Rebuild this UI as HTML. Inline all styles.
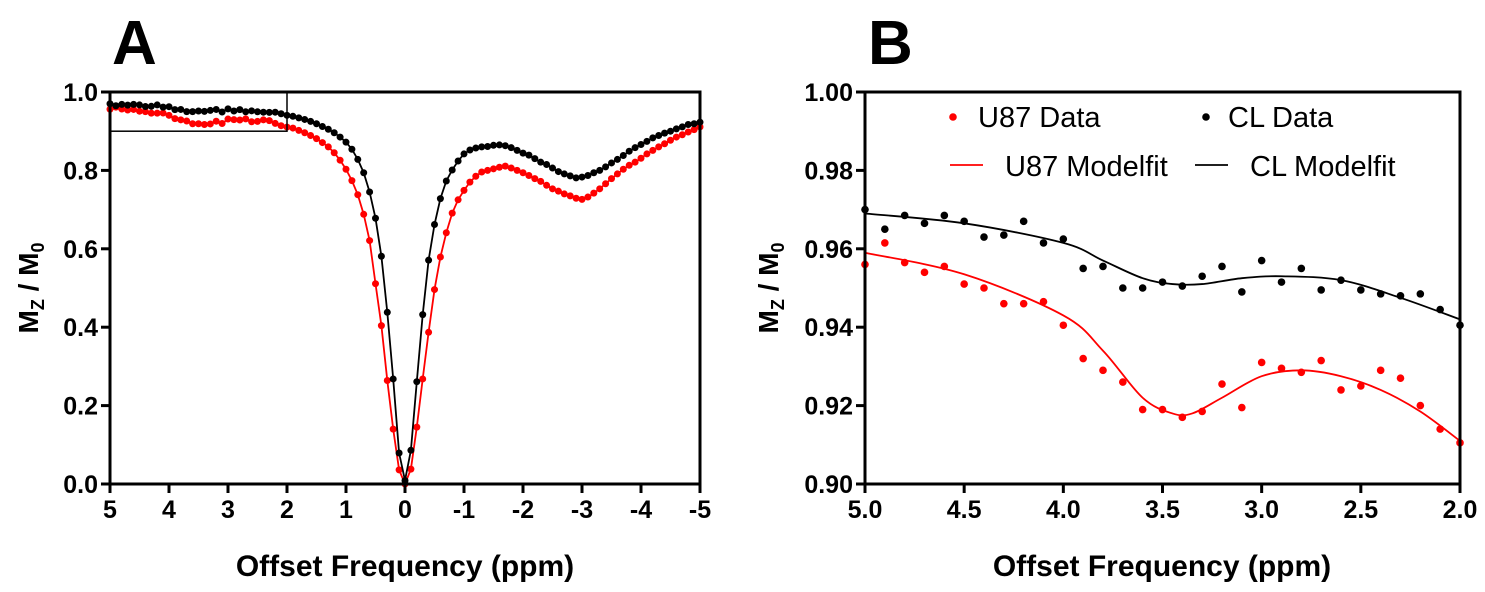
<!DOCTYPE html>
<html><head><meta charset="utf-8"><style>
html,body{margin:0;padding:0;background:#fff;width:1485px;height:592px;overflow:hidden}
svg{display:block;font-family:"Liberation Sans",Arial,sans-serif}
</style></head><body>
<svg id="chart" width="1485" height="592"></svg>
<script>
// ---------- Data ----------
const bPpm = [5.0,4.9,4.8,4.7,4.6,4.5,4.4,4.3,4.2,4.1,4.0,3.9,3.8,3.7,3.6,3.5,3.4,3.3,3.2,3.1,3.0,2.9,2.8,2.7,2.6,2.5,2.4,2.3,2.2,2.1,2.0];
const clData = [0.970,0.965,0.9685,0.9665,0.9685,0.967,0.963,0.9635,0.967,0.9615,0.9625,0.955,0.9555,0.950,0.950,0.9515,0.9505,0.953,0.9555,0.949,0.957,0.9515,0.955,0.9495,0.952,0.9495,0.9485,0.948,0.9485,0.9445,0.9405];
const u87Data = [0.956,0.9615,0.9565,0.954,0.9555,0.951,0.950,0.946,0.946,0.9465,0.9405,0.932,0.929,0.926,0.919,0.919,0.917,0.9185,0.9255,0.9195,0.931,0.9295,0.9285,0.9315,0.924,0.925,0.929,0.927,0.920,0.914,0.9105];
const clFitPpm = [5.0,4.5,4.0,3.8,3.6,3.45,3.3,3.1,2.9,2.6,2.3,2.0];
const clFit = [0.969,0.9665,0.9615,0.957,0.9525,0.951,0.951,0.9525,0.953,0.952,0.9475,0.942];
const u87FitPpm = [5.0,4.5,4.0,3.8,3.6,3.45,3.35,3.2,3.0,2.8,2.6,2.4,2.2,2.0];
const u87Fit = [0.959,0.9535,0.943,0.934,0.922,0.918,0.918,0.922,0.9275,0.929,0.9275,0.924,0.9185,0.911];
// Panel A: values from 1.9 down to -5.0 (step 0.1)
const clA = [0.938,0.934,0.930,0.925,0.919,0.912,0.905,0.896,0.885,0.872,0.854,0.828,0.794,0.745,0.678,0.581,0.438,0.268,0.079,0.009,
 0.086,0.261,0.432,0.571,0.662,0.728,0.773,0.801,0.824,0.842,0.852,0.857,0.860,0.861,0.864,0.865,0.863,0.858,0.851,0.844,0.839,0.830,0.821,0.815,0.806,0.797,0.791,0.786,0.781,0.783,0.787,0.794,0.800,0.809,0.819,0.828,0.838,0.849,0.858,0.866,0.874,0.883,0.889,0.895,0.900,0.906,0.911,0.917,0.919,0.923];
const u87A = [0.908,0.902,0.896,0.889,0.881,0.871,0.860,0.845,0.826,0.803,0.774,0.738,0.688,0.621,0.511,0.404,0.264,0.140,0.036,0.0,
 0.038,0.145,0.268,0.387,0.496,0.579,0.641,0.691,0.725,0.749,0.770,0.785,0.796,0.800,0.804,0.808,0.811,0.806,0.800,0.794,0.787,0.779,0.772,0.762,0.753,0.747,0.740,0.735,0.729,0.726,0.732,0.742,0.753,0.766,0.779,0.791,0.803,0.813,0.821,0.831,0.842,0.851,0.860,0.868,0.877,0.885,0.891,0.898,0.904,0.911];
const aTicksX = [5,4,3,2,1,0,-1,-2,-3,-4,-5];
const aTicksY = [0,0.2,0.4,0.6,0.8,1.0];
const bTicksX = [5.0,4.5,4.0,3.5,3.0,2.5,2.0];
const bTicksY = [0.90,0.92,0.94,0.96,0.98,1.00];

// ---------- Helpers ----------
const NS="http://www.w3.org/2000/svg";
const svg=document.getElementById('chart');
function mk(tag,attrs,parent,text){const e=document.createElementNS(NS,tag);for(const k in attrs)e.setAttribute(k,attrs[k]);if(text!==undefined)e.textContent=text;(parent||svg).appendChild(e);return e;}
function catmull(pts){let d=`M${pts[0][0]},${pts[0][1]}`;for(let i=0;i<pts.length-1;i++){const p0=pts[i-1]||pts[i],p1=pts[i],p2=pts[i+1],p3=pts[i+2]||p2;
 d+=` C${p1[0]+(p2[0]-p0[0])/6},${p1[1]+(p2[1]-p0[1])/6} ${p2[0]-(p3[0]-p1[0])/6},${p2[1]-(p3[1]-p1[1])/6} ${p2[0]},${p2[1]}`;}return d;}
const TICK_FS=25, TITLE_FS=30;

// ---------- Panel A ----------
const ax={x0:110,x1:700,y0:484,y1:92};
const xA=v=>ax.x0+(5-v)/10*(ax.x1-ax.x0);
const yA=v=>ax.y0-v*(ax.y0-ax.y1);
const gA=mk('g',{});


const pl=mk('text',{x:112,y:64,'font-size':62,'font-weight':'bold'},gA,'A');

const ppmA=[];for(let i=0;i<bPpm.length;i++)ppmA.push(bPpm[i]);
for(let i=0;i<clA.length;i++)ppmA.push(+(1.9-0.1*i).toFixed(1));
const clAll=clData.concat(clA), u87All=u87Data.concat(u87A);
[[u87All,'#ff0000','u87'],[clAll,'#000','cl']].forEach(([arr,col,nm])=>{
 const pts=arr.map((v,i)=>[xA(ppmA[i]),yA(v)]);
 const l=mk('polyline',{points:pts.map(p=>p.join(',')).join(' '),fill:'none',stroke:col,'stroke-width':1.8},gA);
 
 pts.forEach(p=>{const c=mk('circle',{cx:p[0],cy:p[1],r:3.5,fill:col},gA);
  });
});
const box=mk('rect',{x:xA(5),y:yA(1.0),width:xA(2)-xA(5),height:yA(0.9)-yA(1.0),fill:'none',stroke:'#000','stroke-width':1.5},gA);

const frA=mk('rect',{x:ax.x0,y:ax.y1,width:ax.x1-ax.x0,height:ax.y0-ax.y1,fill:'none',stroke:'#000','stroke-width':3},gA);

aTicksX.forEach(t=>{mk('line',{x1:xA(t),x2:xA(t),y1:ax.y0,y2:ax.y0+9,stroke:'#000','stroke-width':3},gA);
 const e=mk('text',{x:xA(t),y:ax.y0+34,'font-size':TICK_FS,'font-weight':'bold','text-anchor':'middle'},gA,String(t));
 });
aTicksY.forEach(t=>{mk('line',{x1:ax.x0-9,x2:ax.x0,y1:yA(t),y2:yA(t),stroke:'#000','stroke-width':3},gA);
 const e=mk('text',{x:ax.x0-12,y:yA(t)+9,'font-size':TICK_FS,'font-weight':'bold','text-anchor':'end'},gA,t.toFixed(1));
 });
const xtA=mk('text',{x:405,y:576,'font-size':TITLE_FS,'font-weight':'bold','text-anchor':'middle'},gA,'Offset Frequency (ppm)');

function ytitle(g,x,cy,nm){const t=mk('text',{transform:`translate(${x},${cy}) rotate(-90)`,'font-size':28,'font-weight':'bold','text-anchor':'middle'},g);
 
 mk('tspan',{},t,'M');mk('tspan',{'font-size':18,dy:6},t,'Z');mk('tspan',{dy:-6},t,' / M');mk('tspan',{'font-size':18,dy:6},t,'0');}
ytitle(gA,38,288,'y-axis-title-a');

// ---------- Panel B ----------
const bx={x0:865,x1:1460,y0:484,y1:92};
const xB=v=>bx.x0+(5-v)/3*(bx.x1-bx.x0);
const yB=v=>bx.y0-(v-0.9)/0.1*(bx.y0-bx.y1);
const gB=mk('g',{});


const plb=mk('text',{x:868,y:64,'font-size':62,'font-weight':'bold'},gB,'B');

[[u87FitPpm,u87Fit,'#ff0000','u87'],[clFitPpm,clFit,'#000','cl']].forEach(([px,py,col,nm])=>{
 const p=mk('path',{d:catmull(px.map((v,i)=>[xB(v),yB(py[i])])),fill:'none',stroke:col,'stroke-width':1.8},gB);
 });
[[u87Data,'#ff0000','u87'],[clData,'#000','cl']].forEach(([arr,col,nm])=>{
 arr.forEach((v,i)=>{const c=mk('circle',{cx:xB(bPpm[i]),cy:yB(v),r:3.8,fill:col},gB);
  });});
const frB=mk('rect',{x:bx.x0,y:bx.y1,width:bx.x1-bx.x0,height:bx.y0-bx.y1,fill:'none',stroke:'#000','stroke-width':3},gB);

bTicksX.forEach(t=>{mk('line',{x1:xB(t),x2:xB(t),y1:bx.y0,y2:bx.y0+9,stroke:'#000','stroke-width':3},gB);
 const e=mk('text',{x:xB(t),y:bx.y0+34,'font-size':TICK_FS,'font-weight':'bold','text-anchor':'middle'},gB,t.toFixed(1));
 });
bTicksY.forEach(t=>{mk('line',{x1:bx.x0-9,x2:bx.x0,y1:yB(t),y2:yB(t),stroke:'#000','stroke-width':3},gB);
 const e=mk('text',{x:bx.x0-12,y:yB(t)+9,'font-size':TICK_FS,'font-weight':'bold','text-anchor':'end'},gB,t.toFixed(2));
 });
const xtB=mk('text',{x:1162,y:576,'font-size':TITLE_FS,'font-weight':'bold','text-anchor':'middle'},gB,'Offset Frequency (ppm)');

ytitle(gB,778,288,'y-axis-title-b');

// legend
const lg=mk('g',{},gB);

const le=[
 {t:'U87 Data',x:978,y:127,kind:'dot',col:'#ff0000',kx:953,ky:117,n:'legend-u87-data'},
 {t:'CL Data',x:1228,y:127,kind:'dot',col:'#000',kx:1206,ky:117,n:'legend-cl-data'},
 {t:'U87 Modelfit',x:1005,y:176,kind:'line',col:'#ff0000',kx:950,ky:165,n:'legend-u87-modelfit'},
 {t:'CL Modelfit',x:1250,y:176,kind:'line',col:'#000',kx:1195,ky:165,n:'legend-cl-modelfit'}];
le.forEach(o=>{const g=mk('g',{},lg);
 
 if(o.kind==='dot')mk('circle',{cx:o.kx,cy:o.ky,r:3.8,fill:o.col},g);
 else mk('line',{x1:o.kx,x2:o.kx+33,y1:o.ky,y2:o.ky,stroke:o.col,'stroke-width':1.8},g);
 mk('text',{x:o.x,y:o.y,'font-size':29},g,o.t);});
</script>
</body></html>
